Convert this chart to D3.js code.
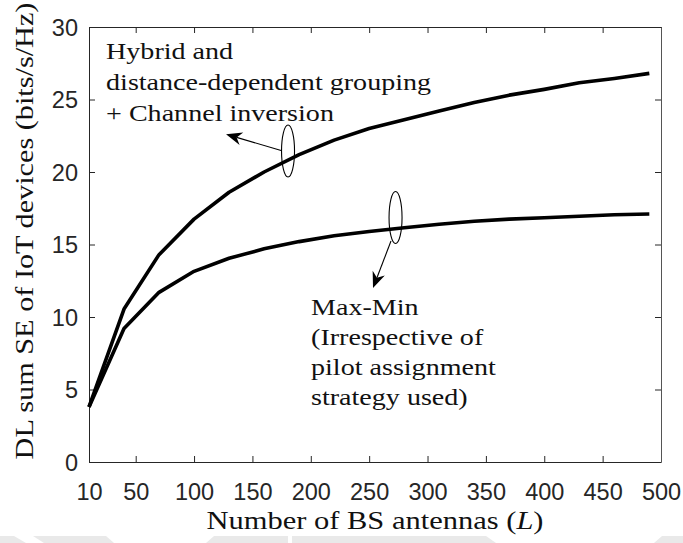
<!DOCTYPE html>
<html>
<head>
<meta charset="utf-8">
<script src="https://cdn.jsdelivr.net/npm/d3@7"></script>
<style>
  html, body { margin: 0; padding: 0; background: #fff; }
  svg { display: block; }
</style>
</head>
<body>
<svg id="chart" width="683" height="543"></svg>
<script>
// Number of BS antennas at which the spectral efficiency was evaluated
const antennas = [10, 40, 70, 100, 130, 160, 190, 220, 250, 280, 310, 340, 370, 400, 430, 460, 490];
// Hybrid and distance-dependent grouping + channel inversion (bits/s/Hz)
const hybridSE = [3.8, 10.55, 14.3, 16.75, 18.6, 20.0, 21.2, 22.2, 23.0, 23.6, 24.2, 24.8, 25.3, 25.7, 26.15, 26.45, 26.8];
// Max-Min power control (bits/s/Hz)
const maxMinSE = [3.8, 9.2, 11.7, 13.15, 14.05, 14.7, 15.2, 15.6, 15.9, 16.15, 16.4, 16.6, 16.75, 16.85, 16.95, 17.05, 17.1];

const xTicks = [10, 50, 100, 150, 200, 250, 300, 350, 400, 450, 500];
const yTicks = [0, 5, 10, 15, 20, 25, 30];

const hybridLabel = ["Hybrid and", "distance-dependent grouping", "+ Channel inversion"];
const maxMinLabel = ["Max-Min", "(Irrespective of", "pilot assignment", "strategy used)"];

const svg = d3.select("#chart");
const plot = { left: 89, right: 661, top: 27, bottom: 462 };

const x = d3.scaleLinear().domain([10, 500]).range([plot.left, plot.right]);
const y = d3.scaleLinear().domain([0, 30]).range([plot.bottom, plot.top]);

const axisColor = "#262626";
const serif = '"Liberation Serif"';
const sans = '"Liberation Sans"';
const widen = 1.17; // serif glyphs drawn a little wider than Times proportions

// faint band along the lower edge of the figure
const band = svg.append("g").attr("fill", "#e9e9e9");
[
  [[0, 536], [14, 536], [26, 543], [0, 543]],
  [[33, 536], [106, 536], [114, 543], [44, 543]],
  [[214, 536], [288, 536], [288, 543], [206, 543]],
  [[292, 536], [486, 536], [496, 543], [292, 543]],
  [[662, 536], [683, 536], [683, 543], [654, 543]]
].forEach(p => band.append("polygon").attr("points", p.map(d => d.join(",")).join(" ")));

// bottom axis with inward ticks
const gx = svg.append("g")
  .attr("transform", `translate(0,${plot.bottom})`)
  .call(d3.axisBottom(x).tickValues(xTicks).tickSizeInner(-6).tickSizeOuter(0).tickPadding(14));
gx.attr("font-family", null).attr("font-size", null);
gx.select(".domain").attr("stroke", axisColor);
gx.selectAll(".tick line").attr("stroke", axisColor);
gx.selectAll(".tick text")
  .attr("fill", axisColor)
  .style("font-family", sans)
  .style("font-size", "23.5px")
  .attr("dy", "0")
  .attr("y", 38);

// left axis with inward ticks
const gy = svg.append("g")
  .attr("transform", `translate(${plot.left},0)`)
  .call(d3.axisLeft(y).tickValues(yTicks).tickSizeInner(-6).tickSizeOuter(0).tickPadding(12));
gy.attr("font-family", null).attr("font-size", null);
gy.select(".domain").attr("stroke", axisColor);
gy.selectAll(".tick line").attr("stroke", axisColor);
gy.selectAll(".tick text")
  .attr("fill", axisColor)
  .style("font-family", sans)
  .style("font-size", "23.5px")
  .attr("x", -11)
  .attr("dy", "0.36em");

// top and right box edges with inward ticks
const gt = svg.append("g")
  .attr("transform", `translate(0,${plot.top})`)
  .call(d3.axisTop(x).tickValues(xTicks).tickSizeInner(-6).tickSizeOuter(0));
gt.selectAll(".tick text").remove();
gt.select(".domain").attr("stroke", axisColor);
gt.selectAll(".tick line").attr("stroke", axisColor);

const gr = svg.append("g")
  .attr("transform", `translate(${plot.right},0)`)
  .call(d3.axisRight(y).tickValues(yTicks).tickSizeInner(-6).tickSizeOuter(0));
gr.selectAll(".tick text").remove();
gr.select(".domain").attr("stroke", "#555");
gr.selectAll(".tick line").attr("stroke", axisColor);

// curves
const line = d3.line().x(d => x(d[0])).y(d => y(d[1]));
[hybridSE, maxMinSE].forEach(series => {
  svg.append("path")
    .datum(antennas.map((a, i) => [a, series[i]]))
    .attr("fill", "none")
    .attr("stroke", "#000")
    .attr("stroke-width", 3.6)
    .attr("stroke-linejoin", "round")
    .attr("d", line);
});

// axis titles
const xTitle = svg.append("text")
  .attr("transform", `translate(${(plot.left + plot.right) / 2},529) scale(${widen + 0.05},1)`)
  .attr("text-anchor", "middle")
  .style("font-family", serif)
  .style("font-size", "25px")
  .attr("fill", "#111");
xTitle.append("tspan").text("Number of BS antennas (");
xTitle.append("tspan").style("font-style", "italic").text("L");
xTitle.append("tspan").text(")");

svg.append("text")
  .attr("transform", `translate(33,231) rotate(-90) scale(${widen + 0.04},1)`)
  .attr("text-anchor", "middle")
  .style("font-family", serif)
  .style("font-size", "25px")
  .attr("fill", "#111")
  .text("DL sum SE of IoT devices (bits/s/Hz)");

// annotation blocks
function textBlock(lines, ax, ay, step) {
  lines.forEach((t, i) => {
    svg.append("text")
      .attr("transform", `translate(${x(ax)},${y(ay) + i * step}) scale(${widen},1)`)
      .style("font-family", serif)
      .style("font-size", "24px")
      .attr("fill", "#111")
      .text(t);
  });
}
textBlock(hybridLabel, 24.6, 27.8, 31);
textBlock(maxMinLabel, 200.2, 10.14, 30);

// ellipses around the curves and arrows pointing to their labels
function ellipse(cx, cy) {
  svg.append("ellipse")
    .attr("cx", x(cx)).attr("cy", y(cy))
    .attr("rx", 6.5).attr("ry", 26)
    .attr("fill", "none").attr("stroke", "#000").attr("stroke-width", 1.1);
}
function arrow(x0, y0, x1, y1) {
  const p0 = [x(x0), y(y0)], p1 = [x(x1), y(y1)];
  const dx = p1[0] - p0[0], dy = p1[1] - p0[1];
  const len = Math.hypot(dx, dy);
  const u = [dx / len, dy / len], n = [-u[1], u[0]];
  const L = 16, hw = 6.5, notch = 5;
  const back = [p1[0] - u[0] * L, p1[1] - u[1] * L];
  const mid = [p1[0] - u[0] * (L - notch), p1[1] - u[1] * (L - notch)];
  svg.append("line")
    .attr("x1", p0[0]).attr("y1", p0[1]).attr("x2", mid[0]).attr("y2", mid[1])
    .attr("stroke", "#000").attr("stroke-width", 1.1);
  svg.append("path")
    .attr("d", d3.line()([
      p1,
      [back[0] + n[0] * hw, back[1] + n[1] * hw],
      mid,
      [back[0] - n[0] * hw, back[1] - n[1] * hw]
    ]) + "Z")
    .attr("fill", "#000");
}
ellipse(180.5, 21.45);
arrow(175.3, 21.47, 127.4, 22.6);
ellipse(272.6, 16.86);
arrow(268.7, 15.24, 253.3, 12.0);
</script>
</body>
</html>
